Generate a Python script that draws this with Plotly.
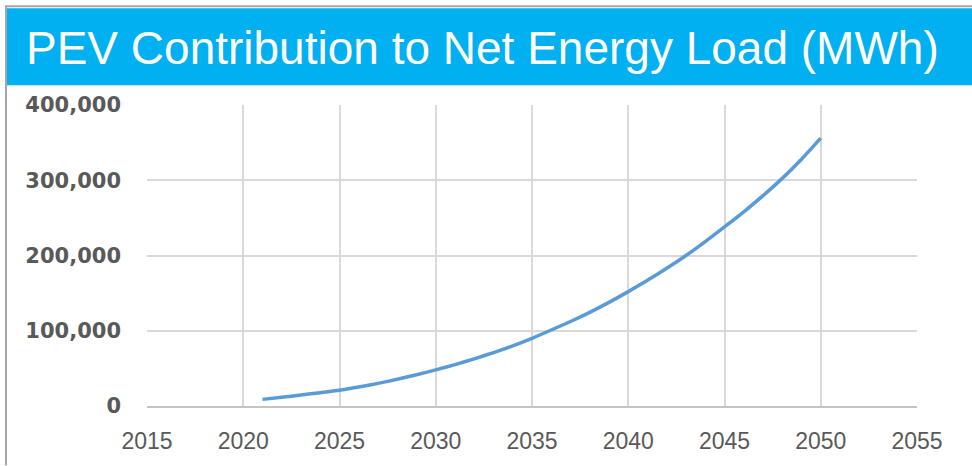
import plotly.graph_objects as go

# Data
years = list(range(2021, 2051))
pev_load_mwh = [
    8800, 11600, 14600, 17700, 21000, 25300, 30100, 35500, 41500, 48000,
    55000, 62700, 71000, 80000, 90000, 101000, 112300, 124500, 137700, 152000,
    167000, 183000, 200000, 218500, 238000, 258000, 279500, 302500, 328000, 356000,
]
x_ticks = [2015, 2020, 2025, 2030, 2035, 2040, 2045, 2050, 2055]
y_ticks = [0, 100000, 200000, 300000, 400000]
y_tick_labels = ["0", "100,000", "200,000", "300,000", "400,000"]
title_text = "PEV Contribution to Net Energy Load (MWh)"

W, H = 972, 466
L, R, T, B = 147, 917, 105, 410  # plot area pixel bounds


def px_x(p):
    return (p - L) / (R - L)


def px_y(p):
    return (B - p) / (B - T)


fig = go.Figure()
fig.add_trace(go.Scatter(
    x=years, y=pev_load_mwh, mode="lines",
    line=dict(color="#5B9BD5", width=3.5, shape="spline", smoothing=0.6),
    hoverinfo="skip", showlegend=False,
))

shapes = [
    # title band
    dict(type="rect", xref="paper", yref="paper",
         x0=px_x(7), x1=px_x(975), y0=px_y(85), y1=px_y(7),
         fillcolor="#00B0F0", line=dict(width=0), layer="below"),
    # outer frame lines
    dict(type="line", xref="paper", yref="paper",
         x0=px_x(5), x1=px_x(975), y0=px_y(5), y1=px_y(5),
         line=dict(color="#A6A6A6", width=2)),
    dict(type="line", xref="paper", yref="paper",
         x0=px_x(6), x1=px_x(6), y0=px_y(5), y1=px_y(470),
         line=dict(color="#A6A6A6", width=2)),
]

fig.update_layout(
    width=W, height=H,
    margin=dict(l=L, r=W - R, t=T, b=H - B, pad=0),
    paper_bgcolor="white", plot_bgcolor="white",
    shapes=shapes,
    annotations=[dict(
        text=title_text, xref="paper", yref="paper",
        x=px_x(482), y=px_y(47), xanchor="center", yanchor="middle",
        showarrow=False,
        font=dict(family="Liberation Sans Narrow, Arial Narrow, Liberation Sans, sans-serif",
                  size=46, color="white"),
    )],
    xaxis=dict(
        range=[2015, 2055], tickvals=x_ticks,
        showgrid=True, gridcolor="#D9D9D9", gridwidth=2,
        showline=True, linecolor="#C4C4C4", linewidth=2,
        zeroline=False, ticks="", ticklabelstandoff=13,
        tickfont=dict(family="Liberation Sans, Arial, sans-serif", size=23, color="#595959"),
    ),
    yaxis=dict(
        range=[0, 400000], tickvals=y_ticks, ticktext=y_tick_labels,
        showgrid=True, gridcolor="#D9D9D9", gridwidth=2,
        showline=False, zeroline=False, ticks="", ticklabelstandoff=25,
        tickfont=dict(family="DejaVu Sans, sans-serif", size=21, color="#595959", weight="bold"),
    ),
)

fig.write_html("out.html")
